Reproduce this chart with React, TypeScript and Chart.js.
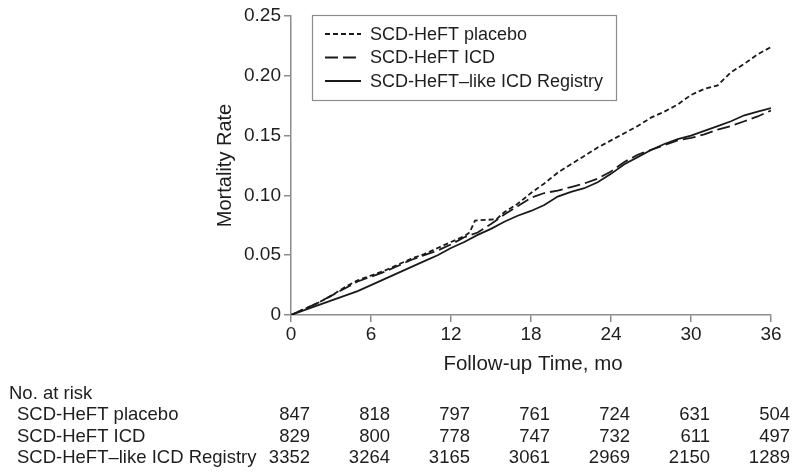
import React, { useEffect, useRef } from "react";
import { Chart, registerables } from "chart.js";

Chart.register(...registerables);

const months = [0, 1, 2, 3, 4, 5, 6, 7, 8, 9, 10, 11, 12, 13, 14, 15, 16, 17, 18, 19, 20, 21, 22, 23, 24, 25, 26, 27, 28, 29, 30, 31, 32, 33, 34, 35, 36];

const placeboMonths = [0, 1, 2, 3, 4, 5, 6, 7, 8, 9, 10, 11, 12, 13, 13.4, 13.8, 15.4, 16, 17, 18, 19, 20, 21, 22, 23, 24, 25, 26, 27, 28, 29, 30, 31, 32, 33, 34, 35, 36];
const placeboRate = [0, 0.005, 0.010, 0.016, 0.023, 0.029, 0.033, 0.037, 0.042, 0.047, 0.051, 0.056, 0.061, 0.066, 0.069, 0.079, 0.080, 0.086, 0.093, 0.102, 0.110, 0.119, 0.126, 0.133, 0.140, 0.146, 0.152, 0.158, 0.165, 0.170, 0.176, 0.184, 0.189, 0.192, 0.203, 0.210, 0.218, 0.224];

const icdRate = [0, 0.005, 0.010, 0.016, 0.022, 0.028, 0.032, 0.036, 0.041, 0.046, 0.050, 0.054, 0.059, 0.065, 0.069, 0.076, 0.084, 0.091, 0.098, 0.102, 0.104, 0.107, 0.110, 0.114, 0.120, 0.128, 0.134, 0.138, 0.142, 0.146, 0.148, 0.151, 0.155, 0.158, 0.162, 0.166, 0.171];

const registryRate = [0, 0.004, 0.008, 0.012, 0.016, 0.020, 0.025, 0.030, 0.035, 0.040, 0.045, 0.050, 0.056, 0.061, 0.067, 0.072, 0.078, 0.083, 0.087, 0.092, 0.099, 0.103, 0.106, 0.111, 0.118, 0.126, 0.132, 0.138, 0.143, 0.147, 0.150, 0.154, 0.158, 0.162, 0.167, 0.170, 0.173];

const seriesNames = ["SCD-HeFT placebo", "SCD-HeFT ICD", "SCD-HeFT\u2013like ICD Registry"];

const riskTimes = [0, 6, 12, 18, 24, 30, 36];
const riskPlacebo = [847, 818, 797, 761, 724, 631, 504];
const riskIcd = [829, 800, 778, 747, 732, 611, 497];
const riskRegistry = [3352, 3264, 3165, 3061, 2969, 2150, 1289];

const FONT = "'Liberation Sans', Arial, sans-serif";
const TEXT = "#1e1e1e";
const AXIS = "#8c8c8c";
const LINE = "#1a1a1a";
const dashes = [[5, 3], [13, 5], []];

const overlay = {
  id: "overlay",
  afterDraw(chart: any) {
    const ctx = chart.ctx as CanvasRenderingContext2D;
    const area = chart.chartArea;
    const xs = chart.scales.x;
    ctx.save();
    ctx.fillStyle = TEXT;

    // y title
    ctx.font = `20px ${FONT}`;
    ctx.textAlign = "center";
    ctx.textBaseline = "middle";
    ctx.save();
    ctx.translate(225, (area.top + area.bottom) / 2);
    ctx.rotate(-Math.PI / 2);
    ctx.fillText("Mortality Rate", 0, 0);
    ctx.restore();

    // x title
    ctx.font = `20.5px ${FONT}`;
    ctx.textBaseline = "alphabetic";
    ctx.fillText("Follow-up Time, mo", (area.left + area.right) / 2 + 2, 370);

    // legend
    ctx.strokeStyle = AXIS;
    ctx.lineWidth = 1.2;
    ctx.strokeRect(312.5, 15.5, 304, 85);
    const rowsY = [34, 57.5, 81];
    ctx.font = `18px ${FONT}`;
    ctx.textAlign = "left";
    ctx.textBaseline = "middle";
    seriesNames.forEach((name, i) => {
      ctx.strokeStyle = LINE;
      ctx.lineWidth = 1.8;
      ctx.setLineDash(dashes[i]);
      ctx.beginPath();
      ctx.moveTo(325, rowsY[i]);
      ctx.lineTo(361, rowsY[i]);
      ctx.stroke();
      ctx.setLineDash([]);
      ctx.fillStyle = TEXT;
      ctx.fillText(name, 370, rowsY[i] + 1);
    });

    // at-risk table
    ctx.font = `18.5px ${FONT}`;
    ctx.textBaseline = "alphabetic";
    ctx.textAlign = "left";
    ctx.fillText("No. at risk", 9, 399);
    const tableRows = [riskPlacebo, riskIcd, riskRegistry];
    const baselines = [420, 441.5, 463];
    tableRows.forEach((vals, r) => {
      ctx.textAlign = "left";
      ctx.fillText(seriesNames[r], 17, baselines[r]);
      ctx.textAlign = "right";
      vals.forEach((v, c) => {
        ctx.fillText(String(v), xs.getPixelForValue(riskTimes[c]) + 19, baselines[r]);
      });
    });
    ctx.restore();
  },
};

export default function App() {
  const ref = useRef<HTMLCanvasElement | null>(null);
  useEffect(() => {
    if (!ref.current) return;
    const mk = (xsArr: number[], ys: number[]) => xsArr.map((x, i) => ({ x, y: ys[i] }));
    const chart = new Chart(ref.current, {
      type: "line",
      data: {
        datasets: [
          { label: seriesNames[0], data: mk(placeboMonths, placeboRate), borderDash: dashes[0] },
          { label: seriesNames[1], data: mk(months, icdRate), borderDash: dashes[1] },
          { label: seriesNames[2], data: mk(months, registryRate), borderDash: dashes[2] },
        ].map((d) => ({
          ...d,
          borderColor: LINE,
          backgroundColor: LINE,
          borderWidth: 1.8,
          pointRadius: 0,
          tension: 0,
          fill: false,
        })),
      },
      options: {
        responsive: false,
        animation: false,
        layout: { padding: { left: 0, right: 29, top: 16, bottom: 0 } },
        plugins: { legend: { display: false }, tooltip: { enabled: false } },
        scales: {
          x: {
            type: "linear",
            min: 0,
            max: 36,
            afterFit: (s: any) => { s.height = 160; },
            ticks: { stepSize: 6, color: TEXT, font: { family: FONT, size: 19 }, padding: 1, maxRotation: 0 },
            grid: { drawOnChartArea: false, drawTicks: true, tickLength: 7, color: AXIS, lineWidth: 1.5 },
            border: { display: true, color: AXIS, width: 1.5 },
          },
          y: {
            type: "linear",
            min: 0,
            max: 0.25,
            afterFit: (s: any) => { s.width = 291; },
            ticks: {
              stepSize: 0.05,
              color: TEXT,
              font: { family: FONT, size: 19 },
              padding: 3,
              callback: (v: any) => (Number(v) === 0 ? "0" : Number(v).toFixed(2)),
            },
            grid: { drawOnChartArea: false, drawTicks: true, tickLength: 7, color: AXIS, lineWidth: 1.5 },
            border: { display: true, color: AXIS, width: 1.5 },
          },
        },
      },
      plugins: [overlay],
    });
    return () => chart.destroy();
  }, []);
  return (
    <div style={{ position: "absolute", left: 0, top: 0, width: 800, height: 475, background: "#fff" }}>
      <canvas ref={ref} width={800} height={475} />
    </div>
  );
}
